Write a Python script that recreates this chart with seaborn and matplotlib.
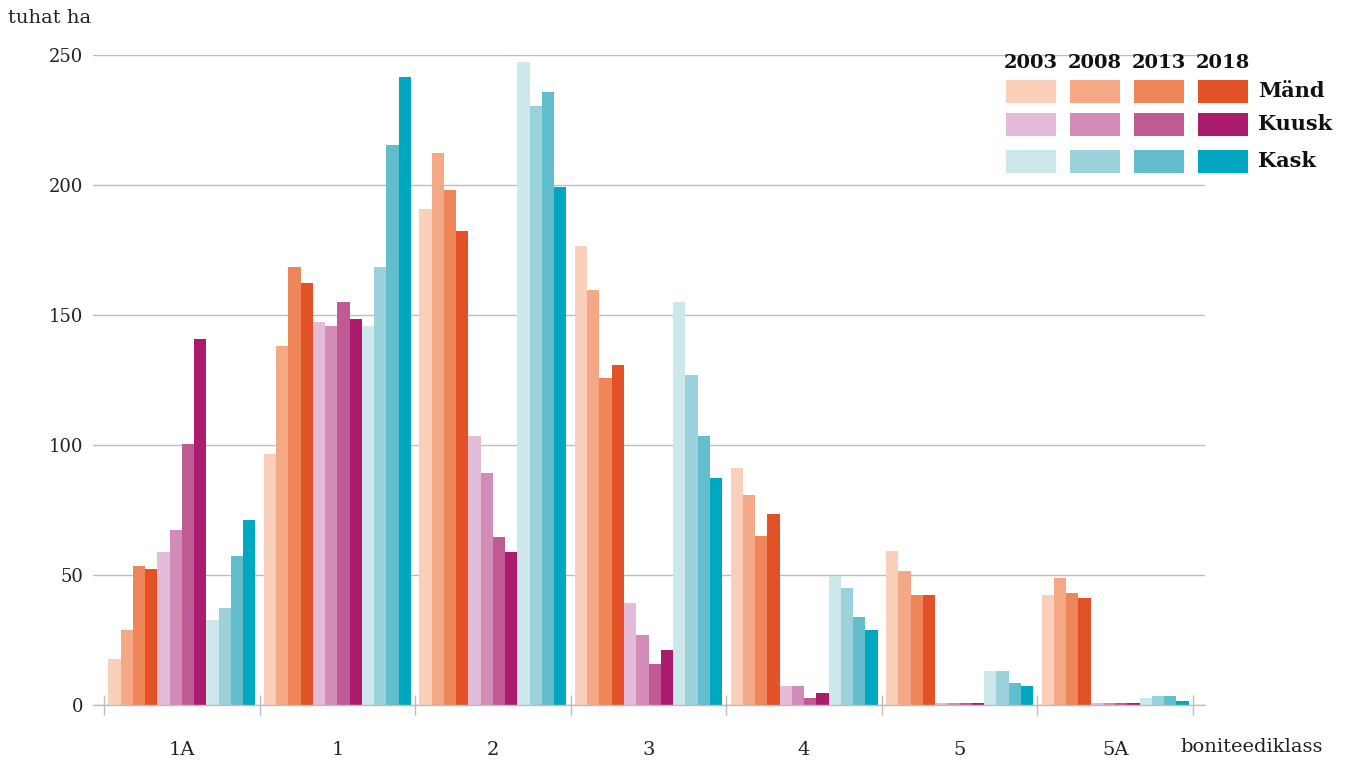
#!/usr/bin/env python3
import pandas as pd
import numpy as np
import matplotlib
matplotlib.use("Agg")
import matplotlib.pyplot as plt
from matplotlib.patches import Rectangle
import seaborn as sns

# boniteediklassid (x axis)
categories = ["1A", "1", "2", "3", "4", "5", "5A"]
years = ["2003", "2008", "2013", "2018"]
species = ["Mänd", "Kuusk", "Kask"]

# values in thousand ha
mand_2003 = [17.7, 96.7, 190.8, 176.7, 91.2, 59.1, 42.2]
mand_2008 = [28.8, 138.0, 212.5, 159.7, 80.8, 51.5, 48.7]
mand_2013 = [53.3, 168.3, 198.2, 125.8, 64.9, 42.2, 43.1]
mand_2018 = [52.3, 162.5, 182.3, 130.7, 73.3, 42.2, 41.2]

kuusk_2003 = [59.0, 147.5, 103.3, 39.2, 7.3, 0.8, 0.8]
kuusk_2008 = [67.5, 145.7, 89.2, 27.0, 7.3, 0.8, 0.8]
kuusk_2013 = [100.5, 155.0, 64.7, 15.7, 2.6, 0.8, 0.8]
kuusk_2018 = [140.8, 148.5, 59.0, 21.3, 4.5, 0.8, 0.8]

kask_2003 = [32.7, 145.7, 247.5, 155.0, 49.7, 12.9, 2.6]
kask_2008 = [37.5, 168.3, 230.3, 126.8, 45.0, 12.9, 3.5]
kask_2013 = [57.2, 215.3, 235.8, 103.3, 33.7, 8.3, 3.5]
kask_2018 = [71.2, 241.5, 199.2, 87.2, 29.0, 7.3, 1.7]

mand_colors = ["#FBD0BA", "#F4A886", "#EF865A", "#E35226"]
kuusk_colors = ["#E4BBD8", "#D38CB8", "#C05A94", "#AC1C6E"]
kask_colors = ["#CCE8EA", "#9BD1DA", "#62BDCC", "#00A7C1"]


def main():
    series = {
        "Mänd": [mand_2003, mand_2008, mand_2013, mand_2018],
        "Kuusk": [kuusk_2003, kuusk_2008, kuusk_2013, kuusk_2018],
        "Kask": [kask_2003, kask_2008, kask_2013, kask_2018],
    }
    rows = []
    for sp in species:
        for yr, vals in zip(years, series[sp]):
            for cat, v in zip(categories, vals):
                rows.append({"klass": cat, "seeria": f"{sp} {yr}", "value": v})
    df = pd.DataFrame(rows)
    hue_order = [f"{sp} {yr}" for sp in species for yr in years]
    palette = mand_colors + kuusk_colors + kask_colors

    sns.set_style("white")
    plt.rcParams["font.family"] = ["DejaVu Serif"]

    fig = plt.figure(figsize=(13.52, 7.64), dpi=100)
    ax = fig.add_axes([93 / 1352, 1 - 705 / 764, (1205 - 93) / 1352, 650 / 764])

    sns.barplot(
        data=df, x="klass", y="value", hue="seeria",
        order=categories, hue_order=hue_order, palette=palette,
        width=0.945, gap=0, errorbar=None, legend=False, saturation=1,
        linewidth=0, ax=ax,
    )

    ax.set_ylim(0, 250)
    ax.set_xlim(-0.5 - 11 / 155.6, 6.5 + 12 / 155.6)
    ax.set_yticks(np.arange(0, 251, 50))
    ax.set_yticklabels([str(v) for v in range(0, 251, 50)], fontsize=13, color="#222222")
    ax.yaxis.grid(True, color="#bdbdbd", linewidth=1)
    ax.set_axisbelow(True)
    ax.tick_params(axis="y", length=0, pad=7)

    # category labels + boundary ticks
    ax.set_xticks(range(len(categories)))
    ax.set_xticklabels(categories, fontsize=14, color="#222222")
    ax.tick_params(axis="x", which="major", length=0, pad=26)
    ax.set_xticks(np.arange(-0.5, len(categories)), minor=True)
    ax.tick_params(axis="x", which="minor", bottom=True, direction="inout", length=14,
                   width=1, color="#bdbdbd")

    for s in ["top", "right", "left"]:
        ax.spines[s].set_visible(False)
    ax.spines["bottom"].set_color("#bdbdbd")
    ax.spines["bottom"].set_linewidth(1)
    ax.set_xlabel("")
    ax.set_ylabel("")

    fig.text(8 / 1352, 1 - 18 / 764, "tuhat ha", fontsize=14, va="center", color="#222222")
    fig.text(1180 / 1352, 1 - 747 / 764, "boniteediklass", fontsize=14, va="center",
             color="#222222")

    # legend grid: years x species
    W, H = 1352, 764
    col_x = [1006, 1070, 1134, 1198]
    row_y = [80, 113, 150]
    for cx, yr in zip(col_x, years):
        fig.text((cx + 25) / W, 1 - 63 / H, yr, fontsize=14, fontweight="bold",
                 ha="center", va="center", color="#111111")
    for ry, sp, cols in zip(row_y, species, [mand_colors, kuusk_colors, kask_colors]):
        for cx, c in zip(col_x, cols):
            fig.patches.append(Rectangle((cx / W, 1 - (ry + 23) / H), 50 / W, 23 / H,
                                         transform=fig.transFigure, facecolor=c,
                                         edgecolor="none"))
        fig.text(1258 / W, 1 - (ry + 11) / H, sp, fontsize=15, fontweight="bold",
                 va="center", color="#111111")

    fig.savefig("out.png", dpi=100)


if __name__ == "__main__":
    main()
